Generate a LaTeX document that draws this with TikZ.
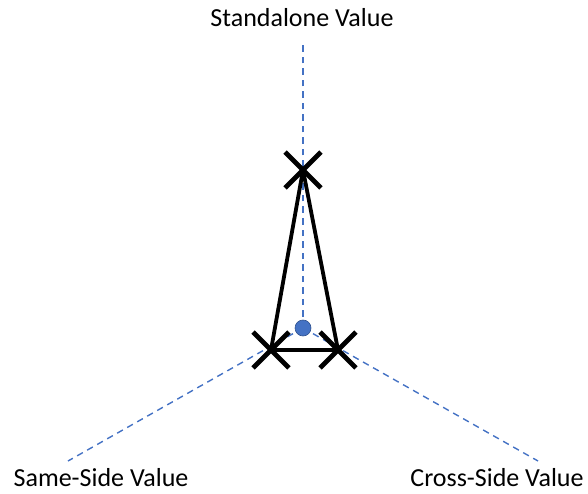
\documentclass[tikz,border=0pt]{standalone}
\usepackage{fontspec}
\setmainfont{Carlito}
\usetikzlibrary{shapes.misc}
\definecolor{axisblue}{HTML}{4472C4}
\definecolor{dotedge}{HTML}{2F528F}
\begin{document}
\begin{tikzpicture}[x=1pt,y=-1pt,
  axisline/.style={axisblue,line width=1.4pt,dash pattern=on 6.5pt off 5pt},
  label/.style={font=\fontsize{26}{30}\selectfont,inner sep=0pt,anchor=base},
  mark x/.style={draw=black,cross out,line width=4.8pt,minimum size=31pt,inner sep=0pt},
  tri/.style={black,line width=3.8pt,line join=round}]
  \useasboundingbox (0,0) rectangle (588,494);
  % centre point and the three axis ends
  \coordinate (centre) at (303,328);
  \coordinate (topend) at (303,44);
  \coordinate (leftend) at (68,461);
  \coordinate (rightend) at (538,461);
  % axes
  \draw[axisline] (centre) -- (topend);
  \draw[axisline] (centre) -- (leftend);
  \draw[axisline] (centre) -- (rightend);
  % labels
  \node[label] (standalone) at (302,27) {Standalone Value};
  \node[label] (sameside) at (101,486) {Same-Side Value};
  \node[label] (crossside) at (497,486) {Cross-Side Value};
  % triangle vertices
  \coordinate (va) at (303,170);
  \coordinate (vb) at (271,350);
  \coordinate (vc) at (338,350);
  \draw[tri] (va) -- (vb) -- (vc) -- cycle;
  \node[mark x] (xa) at (va) {};
  \node[mark x] (xb) at (vb) {};
  \node[mark x] (xc) at (vc) {};
  % centroid dot
  \node[circle,fill=axisblue,draw=dotedge,line width=0.6pt,minimum size=16pt,inner sep=0pt] (dot) at (centre) {};
\end{tikzpicture}
\end{document}
